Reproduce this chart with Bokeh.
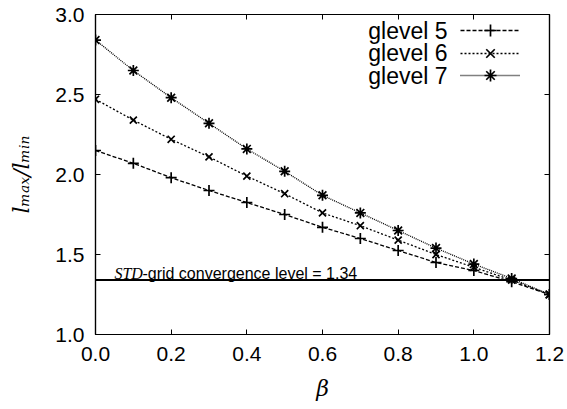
from bokeh.plotting import figure
from bokeh.models import (LinearAxis, FixedTicker, Span, Label, Legend, LegendItem, Range1d,
                          PrintfTickFormatter)
from bokeh.embed import file_html
from bokeh.resources import INLINE

beta = [0.0, 0.1, 0.2, 0.3, 0.4, 0.5, 0.6, 0.7, 0.8, 0.9, 1.0, 1.1, 1.2]
glevel5 = [2.15, 2.07, 1.98, 1.90, 1.825, 1.75, 1.67, 1.60, 1.525, 1.45, 1.40, 1.33, 1.25]
glevel6 = [2.47, 2.34, 2.22, 2.11, 1.99, 1.88, 1.76, 1.68, 1.59, 1.50, 1.42, 1.34, 1.25]
glevel7 = [2.84, 2.65, 2.48, 2.32, 2.16, 2.02, 1.87, 1.76, 1.65, 1.54, 1.44, 1.35, 1.25]
series_names = ["glevel 5", "glevel 6", "glevel 7"]
std_level = 1.34
x_ticks = [0.0, 0.2, 0.4, 0.6, 0.8, 1.0, 1.2]
y_ticks = [1.0, 1.5, 2.0, 2.5, 3.0]

SANS = "Liberation Sans"
SERIF = "DejaVu Serif"

p = figure(width=566, height=408, output_backend="svg", toolbar_location=None,
           x_range=Range1d(0, 1.2), y_range=Range1d(1.0, 3.0),
           min_border_left=95, min_border_right=17, min_border_top=14, min_border_bottom=74)
p.grid.visible = False
p.outline_line_color = "black"
p.outline_line_width = 1.2
p.background_fill_color = "white"
p.border_fill_color = "white"

def style_axis(ax, show_labels, ticks):
    ax.ticker = FixedTicker(ticks=ticks)
    ax.axis_line_color = "black"
    ax.axis_line_width = 1.2
    ax.major_tick_in = 5
    ax.major_tick_out = 0
    ax.minor_tick_line_color = None
    ax.major_tick_line_color = "black"
    if show_labels:
        ax.formatter = PrintfTickFormatter(format="%.1f")
        ax.major_label_text_font = SANS
        ax.major_label_text_font_size = "21px"
        ax.major_label_text_color = "black"
    else:
        ax.major_label_overrides = {t: "" for t in ticks}
        ax.major_label_standoff = 0

style_axis(p.xaxis[0], True, x_ticks)
style_axis(p.yaxis[0], True, y_ticks)
p.xaxis.major_label_standoff = 12
p.yaxis.major_label_standoff = 11
p.xaxis.axis_label = "β"
p.yaxis.axis_label = "lₘₐₓ/lₘᵢₙ"
for ax in (p.xaxis[0], p.yaxis[0]):
    ax.axis_label_text_font = SERIF
    ax.axis_label_text_font_style = "italic"
    ax.axis_label_text_font_size = "22px"
    ax.axis_label_text_color = "black"
p.xaxis.axis_label_standoff = 12
p.yaxis.axis_label_standoff = 18

top = LinearAxis()
right = LinearAxis()
style_axis(top, False, x_ticks)
style_axis(right, False, y_ticks)
p.add_layout(top, "above")
p.add_layout(right, "right")

p.add_layout(Span(location=std_level, dimension="width", line_color="black", line_width=2))

l1 = Label(x=0.05, y=std_level, y_offset=7, text="STD", text_font="Liberation Serif",
           text_font_style="italic", text_font_size="16px", text_color="black",
           text_baseline="alphabetic")
l2 = Label(x=0.05, y=std_level, x_offset=28, y_offset=7,
           text="-grid convergence level = 1.34", text_font=SANS,
           text_font_size="16px", text_color="black", text_baseline="alphabetic")
p.add_layout(l1)
p.add_layout(l2)

styles = [("4 2", "cross", 11), ("2 2", "x", 10), ("1 1", "asterisk", 11)]
for i, (ys, (dash, marker, msize), name) in enumerate(zip([glevel5, glevel6, glevel7], styles, series_names)):
    ln = p.line(beta, ys, line_color="black", line_width=1.3, line_dash=dash)
    mk = p.scatter(beta, ys, marker=marker, size=msize, line_color="black", line_width=1.7,
                   fill_color="black")
    row_center = 304 - 22.5 * i
    lg = Legend(items=[LegendItem(label=" ", renderers=[ln, mk])],
                location=(365, row_center - 15), glyph_width=60, glyph_height=30,
                label_height=30, label_width=1, label_standoff=0, spacing=0,
                padding=0, margin=0, border_line_color=None, background_fill_alpha=0,
                label_text_font_size="1px")
    p.add_layout(lg)
    p.add_layout(Label(x=352, y=row_center, x_units="screen", y_units="screen",
                       text=name, text_font=SANS, text_font_size="23px",
                       text_color="black", text_align="right", text_baseline="middle"))

open("out.html", "w").write(file_html(p, INLINE))
